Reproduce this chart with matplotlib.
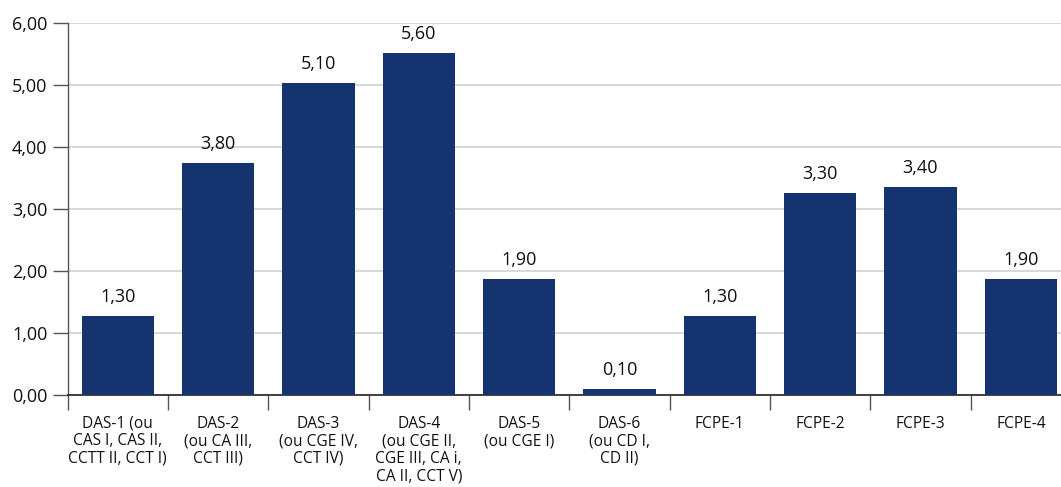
import matplotlib
matplotlib.use("Agg")
import matplotlib.pyplot as plt
import numpy as np

categories = ["DAS-1 (ou\nCAS I, CAS II,\nCCTT II, CCT I)", "DAS-2\n(ou CA III,\nCCT III)",
              "DAS-3\n(ou CGE IV,\nCCT IV)", "DAS-4\n(ou CGE II,\nCGE III, CA i,\nCA II, CCT V)",
              "DAS-5\n(ou CGE I)", "DAS-6\n(ou CD I,\nCD II)", "FCPE-1", "FCPE-2", "FCPE-3", "FCPE-4"]
bar_heights = [1.28, 3.74, 5.03, 5.52, 1.87, 0.10, 1.28, 3.26, 3.36, 1.87]
value_labels = ["1,30", "3,80", "5,10", "5,60", "1,90", "0,10", "1,30", "3,30", "3,40", "1,90"]
yticks = [0, 1, 2, 3, 4, 5, 6]
ytick_labels = ["0,00", "1,00", "2,00", "3,00", "4,00", "5,00", "6,00"]

plt.rcParams['font.family'] = ['Open Sans', 'DejaVu Sans']
W, H = 1061, 487
fig = plt.figure(figsize=(W / 100, H / 100), dpi=100)
ax = fig.add_axes([67.5 / W, 92 / H, (1071 - 67.5) / W, 372 / H])

x = np.arange(len(categories))
ax.bar(x, bar_heights, width=0.72, color="#15336f", zorder=3)
for xi, h, lab in zip(x, bar_heights, value_labels):
    ax.annotate(lab, (xi, h), xytext=(0, 13.5), textcoords="offset points",
                ha="center", va="center", fontsize=13, color="#111111")

ax.set_xlim(-0.5, len(categories) - 0.5)
ax.set_ylim(0, 6)
ax.set_yticks(yticks)
ax.set_yticklabels(ytick_labels, fontsize=13, color="#111111")
ax.yaxis.grid(True, color="#d9d9d9", linewidth=1.5, zorder=0)
ax.set_axisbelow(True)

ax.set_xticks(x)
ax.set_xticklabels(categories, fontsize=11.2, color="#111111", linespacing=1.12, va="top")
ax.set_xticks(np.arange(-0.5, len(categories), 1), minor=True)
ax.tick_params(axis="x", which="major", length=0, pad=15)
ax.tick_params(axis="x", which="minor", length=11, width=1, color="#555555")
ax.tick_params(axis="y", length=11, width=1, color="#555555", pad=3.5)

for s in ["top", "right"]:
    ax.spines[s].set_visible(False)
ax.spines["left"].set_color("#555555")
ax.spines["left"].set_linewidth(1)
ax.spines["bottom"].set_color("#222222")
ax.spines["bottom"].set_linewidth(1.2)

fig.savefig("out.png", dpi=100)
